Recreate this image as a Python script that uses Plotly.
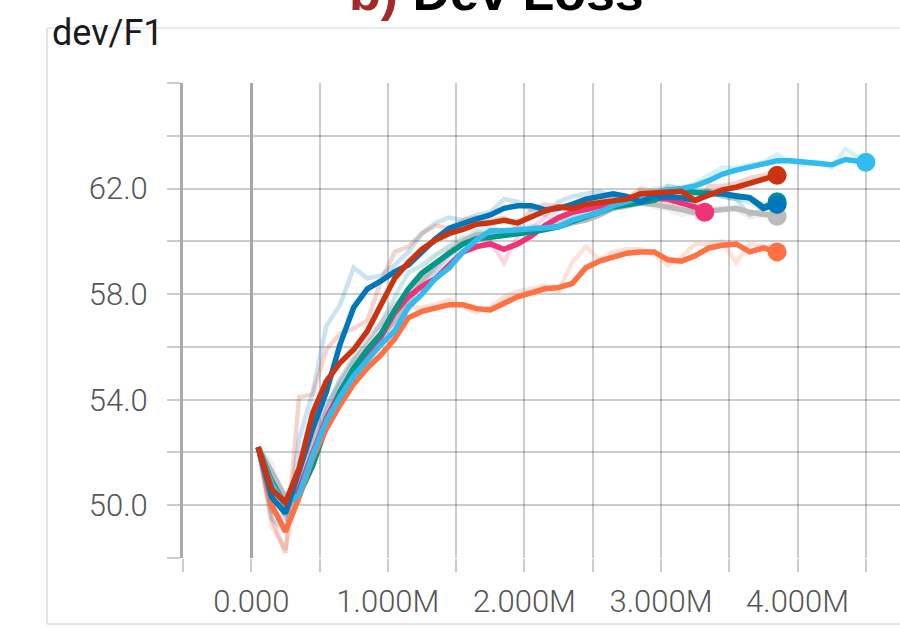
import plotly.graph_objects as go

# ---------------- data (x in millions of steps) ----------------
steps = [0.05, 0.15, 0.25, 0.35, 0.45, 0.55, 0.65, 0.75, 0.85, 0.95,
         1.05, 1.15, 1.25, 1.35, 1.45, 1.55, 1.65, 1.75, 1.85, 1.95,
         2.05, 2.15, 2.25, 2.35, 2.45, 2.55, 2.65, 2.75, 2.85, 2.95,
         3.05, 3.15, 3.25, 3.35, 3.45, 3.55, 3.65, 3.75, 3.85]
steps_long = steps + [3.95, 4.05, 4.15, 4.25, 4.35, 4.5]
steps_pink = steps[:33] + [3.32]

gray_smooth = [52.2, 51.2, 50.3, 50.8, 51.9, 53.1, 54.2, 55.1, 55.8, 56.4,
               57.0, 57.7, 58.5, 59.1, 59.6, 60.0, 60.25, 60.3, 60.3, 60.3,
               60.4, 60.45, 60.55, 60.7, 60.8, 61.0, 61.25, 61.35, 61.45, 61.4,
               61.3, 61.15, 61.1, 61.15, 61.2, 61.25, 61.1, 61.0, 60.95]
gray_raw = [52.2, 51.6, 50.0, 51.2, 52.4, 53.6, 54.6, 55.5, 56.1, 56.7,
            57.4, 58.2, 58.9, 59.4, 59.9, 60.2, 60.4, 60.3, 60.3, 60.3,
            60.5, 60.4, 60.7, 60.8, 60.9, 61.2, 61.4, 61.4, 61.6, 61.3,
            61.2, 61.0, 61.1, 61.2, 61.3, 61.2, 60.9, 61.0, 60.9]

pink_smooth = [52.2, 50.8, 50.0, 50.6, 52.0, 53.3, 54.3, 55.1, 55.8, 56.4,
               57.3, 57.9, 58.3, 58.6, 59.1, 59.6, 59.8, 59.9, 59.7, 59.9,
               60.2, 60.6, 60.9, 61.1, 61.2, 61.35, 61.5, 61.6, 61.65, 61.65,
               61.6, 61.45, 61.3, 61.1]
pink_raw = [52.2, 49.8, 49.5, 51.2, 52.6, 53.8, 54.7, 55.5, 56.1, 56.9,
            57.6, 58.1, 58.5, 58.9, 59.5, 59.9, 59.9, 60.0, 59.2, 60.2,
            60.5, 60.9, 61.2, 61.3, 61.3, 61.5, 61.8, 61.7, 61.7, 61.6,
            61.5, 61.2, 61.0, 60.9]

teal_smooth = [52.2, 50.9, 50.0, 50.4, 51.5, 53.0, 54.3, 55.2, 55.9, 56.5,
               57.4, 58.2, 58.8, 59.2, 59.55, 59.9, 60.1, 60.15, 60.2, 60.25,
               60.35, 60.45, 60.55, 60.75, 60.9, 61.1, 61.3, 61.4, 61.5, 61.55,
               61.8, 61.95, 61.85, 61.85, 61.8, 61.7, 61.65, 61.3, 61.5]
teal_raw = [52.2, 50.5, 49.6, 50.6, 52.0, 53.6, 54.8, 55.6, 56.3, 56.9,
            57.9, 58.8, 59.1, 59.5, 59.8, 60.1, 60.2, 60.1, 60.3, 60.3,
            60.5, 60.5, 60.7, 60.9, 61.0, 61.3, 61.4, 61.5, 61.6, 61.6,
            62.1, 62.0, 61.8, 61.9, 61.7, 61.6, 61.5, 61.2, 61.6]

orange_smooth = [52.2, 50.0, 49.0, 50.3, 51.8, 52.9, 53.8, 54.6, 55.2, 55.7,
                 56.3, 57.1, 57.35, 57.45, 57.6, 57.6, 57.45, 57.4, 57.65, 57.9,
                 58.05, 58.2, 58.25, 58.4, 59.0, 59.25, 59.4, 59.55, 59.6, 59.6,
                 59.3, 59.25, 59.45, 59.75, 59.85, 59.9, 59.6, 59.75, 59.6]
orange_raw = [52.2, 49.2, 48.3, 51.0, 52.4, 53.4, 54.3, 55.0, 55.5, 56.0,
              56.8, 57.5, 57.5, 57.6, 57.8, 57.5, 57.3, 57.5, 57.9, 58.1,
              58.2, 58.3, 58.1, 59.2, 59.8, 59.3, 59.6, 59.7, 59.7, 59.5,
              59.1, 59.4, 59.9, 59.9, 60.0, 59.2, 59.9, 59.8, 59.6]

lightblue_smooth = [52.2, 50.8, 50.0, 50.4, 51.9, 53.2, 54.1, 54.9, 55.5, 56.1,
                    56.6, 57.5, 58.0, 58.6, 59.0, 59.6, 60.05, 60.4, 60.4, 60.45,
                    60.5, 60.55, 60.55, 60.8, 60.95, 61.1, 61.35, 61.5, 61.6, 61.8,
                    61.95, 62.0, 62.1, 62.3, 62.55, 62.7, 62.8, 62.9, 63.05,
                    63.05, 63.0, 63.0, 62.9, 63.1, 63.0]
lightblue_raw = [52.2, 50.2, 49.6, 51.0, 52.6, 53.8, 54.6, 55.4, 55.9, 56.5,
                 57.0, 57.9, 58.4, 58.9, 59.3, 60.0, 60.4, 60.6, 60.3, 60.5,
                 60.6, 60.5, 60.7, 61.0, 61.1, 61.3, 61.6, 61.6, 61.7, 62.0,
                 62.1, 62.0, 62.2, 62.5, 62.8, 62.8, 62.9, 63.0, 63.3,
                 63.0, 62.9, 63.0, 62.8, 63.5, 63.0]

darkblue_smooth = [52.2, 50.3, 49.7, 51.3, 52.9, 54.3, 56.1, 57.5, 58.2, 58.5,
                   58.85, 59.1, 59.6, 60.1, 60.5, 60.7, 60.85, 61.0, 61.25, 61.35,
                   61.35, 61.2, 61.25, 61.4, 61.6, 61.7, 61.8, 61.7, 61.5, 61.7,
                   61.7, 61.65, 61.55, 61.8, 61.8, 61.75, 61.65, 61.25, 61.4]
darkblue_raw = [52.2, 49.5, 49.0, 52.5, 54.3, 56.8, 57.6, 59.0, 58.6, 58.7,
                59.1, 59.6, 60.3, 60.7, 60.9, 60.8, 61.0, 61.1, 61.6, 61.5,
                61.2, 61.0, 61.5, 61.7, 61.8, 61.9, 61.7, 61.4, 61.9, 61.8,
                61.6, 61.4, 61.9, 61.9, 61.7, 61.6, 61.0, 61.2, 61.5]

red_smooth = [52.2, 50.6, 50.1, 51.4, 53.5, 54.7, 55.4, 55.9, 56.6, 57.6,
              58.6, 59.2, 59.7, 60.05, 60.3, 60.45, 60.65, 60.7, 60.8, 60.7,
              60.95, 61.15, 61.3, 61.25, 61.4, 61.45, 61.55, 61.6, 61.8, 61.85,
              61.9, 61.9, 61.55, 61.75, 61.95, 62.05, 62.2, 62.35, 62.5]
red_raw = [52.2, 49.5, 48.2, 54.1, 54.2, 55.9, 56.5, 56.7, 57.0, 58.5,
           59.6, 59.8, 60.3, 60.6, 60.5, 60.8, 60.9, 60.8, 60.9, 60.5,
           61.2, 61.4, 61.3, 61.4, 61.6, 61.5, 61.7, 61.6, 62.0, 61.9,
           62.0, 61.8, 61.3, 62.1, 62.1, 62.2, 62.4, 62.5, 62.6]

# drawing order: bottom -> top
runs = [
    ("gray", steps, gray_smooth, gray_raw, "#bbbbbb"),
    ("pink", steps_pink, pink_smooth, pink_raw, "#ee3377"),
    ("teal", steps, teal_smooth, teal_raw, "#009988"),
    ("orange", steps, orange_smooth, orange_raw, "#ff7043"),
    ("lightblue", steps_long, lightblue_smooth, lightblue_raw, "#33bbee"),
    ("darkblue", steps, darkblue_smooth, darkblue_raw, "#0077bb"),
    ("red", steps, red_smooth, red_raw, "#cc3311"),
]

x_tickvals = [-0.5, 0.0, 0.5, 1.0, 1.5, 2.0, 2.5, 3.0, 3.5, 4.0, 4.5]
x_ticktext = ["", "0.000", "", "1.000M", "", "2.000M", "", "3.000M", "", "4.000M", ""]
y_tickvals = [48, 50, 52, 54, 56, 58, 60, 62, 64, 66]
y_ticktext = ["", "50.0", "", "54.0", "", "58.0", "", "62.0", "", ""]

# ---------------- figure ----------------
fig = go.Figure()

for name, xs, sm, raw, col in runs:
    fig.add_trace(go.Scatter(x=xs, y=raw, mode="lines", name=name + " raw",
                             line=dict(color=col, width=4.5), opacity=0.2,
                             hoverinfo="skip", showlegend=False))

for name, xs, sm, raw, col in runs:
    fig.add_trace(go.Scatter(x=xs, y=sm, mode="lines", name=name,
                             line=dict(color=col, width=5.5), showlegend=False))
    fig.add_trace(go.Scatter(x=[xs[-1]], y=[sm[-1]], mode="markers",
                             marker=dict(color=col, size=19, line=dict(width=0)),
                             showlegend=False, hoverinfo="skip"))

W, H = 900, 628
L, R, T, B = 183, 0, 83, 70
pw, ph = W - L - R, H - T - B


def px(xp):
    return (xp - L) / pw


def py(yp):
    return (H - B - yp) / ph


grid = "rgba(0,0,0,0.2)"
tickfont = dict(family="Roboto", size=31, color="#555555", weight=300)

fig.update_layout(
    width=W, height=H,
    margin=dict(l=L, r=R, t=T, b=B, pad=0),
    paper_bgcolor="white", plot_bgcolor="white",
    showlegend=False,
    xaxis=dict(range=[-0.5, 4.75], tickmode="array", tickvals=x_tickvals,
               ticktext=x_ticktext, showgrid=True, gridcolor=grid, gridwidth=2,
               ticks="outside", ticklen=13, tickwidth=2, tickcolor=grid,
               zeroline=True, zerolinecolor="#a6a6a6", zerolinewidth=3,
               showline=False, tickfont=tickfont, ticklabelstandoff=3),
    yaxis=dict(range=[48, 66], tickmode="array", tickvals=y_tickvals,
               ticktext=y_ticktext, showgrid=True, gridcolor=grid, gridwidth=2,
               ticks="outside", ticklen=13, tickwidth=2, tickcolor=grid,
               zeroline=False, showline=True, linecolor="#aaaaaa", linewidth=3,
               tickfont=tickfont, ticklabelstandoff=13),
    annotations=[
        dict(text="dev/F1", xref="paper", yref="paper", x=px(50), y=py(33),
             xanchor="left", yanchor="middle", showarrow=False,
             font=dict(family="Roboto", size=36, color="#1a1a1a")),
        dict(text="<b><span style='color:#a12b2b'>b)</span> Dev Loss</b>",
             xref="paper", yref="paper", x=px(496), y=py(-8),
             xanchor="center", yanchor="middle", showarrow=False,
             font=dict(family="Liberation Sans", size=52, color="#000000")),
    ],
    shapes=[
        dict(type="line", xref="paper", yref="paper", x0=px(47), x1=px(47),
             y0=py(28), y1=py(624), line=dict(color="#dddddd", width=1.5)),
        dict(type="line", xref="paper", yref="paper", x0=px(47), x1=px(900),
             y0=py(28), y1=py(28), line=dict(color="#e6e6e6", width=1.5)),
        dict(type="line", xref="paper", yref="paper", x0=px(47), x1=px(900),
             y0=py(624), y1=py(624), line=dict(color="#dddddd", width=1.5)),
    ],
)

fig.write_html("out.html", config={"displayModeBar": False})
